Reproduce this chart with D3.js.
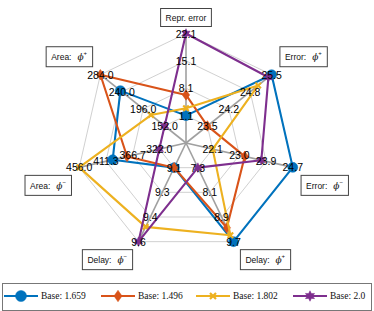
<!DOCTYPE html>
<html><head><meta charset="utf-8">
<script src="https://cdn.jsdelivr.net/npm/d3@7"></script>
<style>body{margin:0;background:#fff}svg{display:block}</style>
</head><body><svg id="c" width="374" height="311"></svg>
<script>
// ---- data ----
const axisNames = ["Repr. error", "Error:", "Error:", "Delay:", "Delay:", "Area:", "Area:"];
const axisSup   = [null, "+", "-", "+", "-", "-", "+"];
const axisMin   = [1.1, 23.5, 22.12, 7.3, 9.1, 322, 152];
const axisMax   = [22.1, 25.5, 24.72, 9.7, 9.6, 456, 284];
const tickLabels = [
  ["1.1","8.1","15.1","22.1"],
  ["23.5","24.2","24.8","25.5"],
  ["22.1","23.0","23.9","24.7"],
  ["7.3","8.1","8.9","9.7"],
  ["9.1","9.3","9.4","9.6"],
  ["322.0","366.7","411.3","456.0"],
  ["152.0","196.0","240.0","284.0"]
];
const seriesNames = ["Base: 1.659", "Base: 1.496", "Base: 1.802", "Base: 2.0"];
const seriesBlue   = [1.1, 25.5, 24.72, 9.7, 9.1, 400, 243];
const seriesOrange = [6.4, 23.5, 23.16, 9.25, 9.1, 376, 284];
const seriesYellow = [3.0, 25.08, 22.12, 9.49, 9.5, 456, 180];
const seriesPurple = [22.1, 25.4, 23.7, 7.3, 9.6, 322, 152];
const seriesValues = [seriesBlue, seriesOrange, seriesYellow, seriesPurple];
const colors = ["#0072BD", "#D95319", "#EDB120", "#7E2F8E"];
const markers = ["circle", "diamond", "x", "hexagram"];

// ---- layout ----
const svg = d3.select("#c");
const cx = 186, cy = 143, R = 109.5;
const n = axisNames.length;
const levels = 4;
const ang = i => Math.PI/2 - i * 2*Math.PI/n;
const pt = (i, r) => [cx + r*Math.cos(ang(i)), cy - r*Math.sin(ang(i))];
const scales = axisMin.map((mn, i) => d3.scaleLinear().domain([mn, axisMax[i]]).range([R/levels, R]));

// grid rings
const gGrid = svg.append("g");
for (let l = 1; l <= levels; l++) {
  const r = R * l / levels;
  gGrid.append("path")
    .attr("d", d3.line()(d3.range(n + 1).map(i => pt(i % n, r))))
    .attr("fill", "none").attr("stroke", "#c4c4c4").attr("stroke-width", 0.8);
}
// spokes
for (let i = 0; i < n; i++) {
  const p = pt(i, R);
  gGrid.append("line").attr("x1", cx).attr("y1", cy).attr("x2", p[0]).attr("y2", p[1])
    .attr("stroke", "#a0a0a0").attr("stroke-width", 1.6);
}

// marker path generator
function markerPath(type, s) {
  if (type === "circle") return d3.symbol(d3.symbolCircle, Math.PI * s * s)();
  if (type === "diamond") return `M0,${-s*1.15}L${s*0.8},0L0,${s*1.15}L${-s*0.8},0Z`;
  if (type === "x") { const a = s*0.6; return `M${-a},${-a}L${a},${a}M${-a},${a}L${a},${-a}`; }
  if (type === "hexagram") {
    const pts = [];
    for (let k = 0; k < 12; k++) {
      const rr = k % 2 === 0 ? s*1.05 : s*0.55;
      const a = -Math.PI/2 + k * Math.PI/6;
      pts.push([rr*Math.cos(a), rr*Math.sin(a)]);
    }
    return d3.line()(pts) + "Z";
  }
}
function drawMarker(g, type, color, x, y, s) {
  const p = g.append("path").attr("d", markerPath(type, s)).attr("transform", `translate(${x},${y})`);
  if (type === "x") p.attr("fill", "none").attr("stroke", color).attr("stroke-width", 2.2);
  else p.attr("fill", color).attr("stroke", color).attr("stroke-width", 0.5);
}

// series
const gS = svg.append("g");
seriesValues.forEach((vals, si) => {
  const pts = vals.map((v, i) => pt(i, scales[i](v)));
  gS.append("path").attr("d", d3.line()(pts.concat([pts[0]])))
    .attr("fill", "none").attr("stroke", colors[si]).attr("stroke-width", 2.1)
    .attr("stroke-linejoin", "round");
  pts.forEach(p => drawMarker(gS, markers[si], colors[si], p[0], p[1], markers[si] === "circle" ? 5 : 4.6));
});

// value labels
const gL = svg.append("g").attr("font-family", "Liberation Sans, Arial, sans-serif").attr("font-size", 10.5);
tickLabels.forEach((labs, i) => {
  labs.forEach((t, l) => {
    const p = pt(i, R * (l + 1) / levels);
    gL.append("text").attr("x", p[0]).attr("y", p[1]).attr("text-anchor", "middle")
      .attr("dominant-baseline", "central").attr("fill", "#000").text(t);
  });
});

// axis name labels (boxed)
const gA = svg.append("g");
axisNames.forEach((name, i) => {
  const p = pt(i, R);
  const c = Math.cos(ang(i)), s = Math.sin(ang(i));
  let dx = 0, dy = -16;
  if (Math.abs(c) > 0.1) { dx = c > 0 ? 32 : -31; dy = s > 0 ? -18 : 18; }
  const g = gA.append("g").attr("transform", `translate(${p[0] + dx},${p[1] + dy})`);
  const rect = g.append("rect").attr("fill", "#fff").attr("stroke", "#444").attr("stroke-width", 1);
  const t = g.append("text").attr("font-family", "Liberation Sans, Arial, sans-serif").attr("font-size", 8.5)
    .attr("dominant-baseline", "central").attr("y", 0.5).attr("fill", "#111");
  t.append("tspan").text(name);
  if (axisSup[i]) {
    t.append("tspan").attr("dx", 6).attr("font-family", "DejaVu Serif, serif").attr("font-style", "italic").attr("font-size", 9).text("ϕ");
    t.append("tspan").attr("dy", -4).attr("font-size", 6).text(axisSup[i] === "-" ? "−" : "+");
  }
  const bb = t.node().getBBox();
  t.attr("x", -bb.width / 2);
  const w = bb.width + 10, h = axisSup[i] ? 20 : 18;
  rect.attr("x", -w / 2).attr("y", -h / 2).attr("width", w).attr("height", h);
});

// legend
const gLeg = svg.append("g");
gLeg.append("rect").attr("x", 2.5).attr("y", 283.5).attr("width", 369).attr("height", 27)
  .attr("fill", "#fff").attr("stroke", "#777").attr("stroke-width", 1);
const legX = [4, 101, 196, 293];
seriesNames.forEach((nm, si) => {
  const x0 = legX[si], y0 = 296;
  gLeg.append("line").attr("x1", x0).attr("x2", x0 + 34).attr("y1", y0).attr("y2", y0)
    .attr("stroke", colors[si]).attr("stroke-width", 2.1);
  drawMarker(gLeg, markers[si], colors[si], x0 + 17, y0, markers[si] === "circle" ? 5.5 : 5);
  gLeg.append("text").attr("x", x0 + 37).attr("y", y0).attr("dominant-baseline", "central")
    .attr("font-family", "Liberation Serif, Times New Roman, serif").attr("font-size", 9.5).attr("fill", "#111").text(nm);
});
</script></body></html>
